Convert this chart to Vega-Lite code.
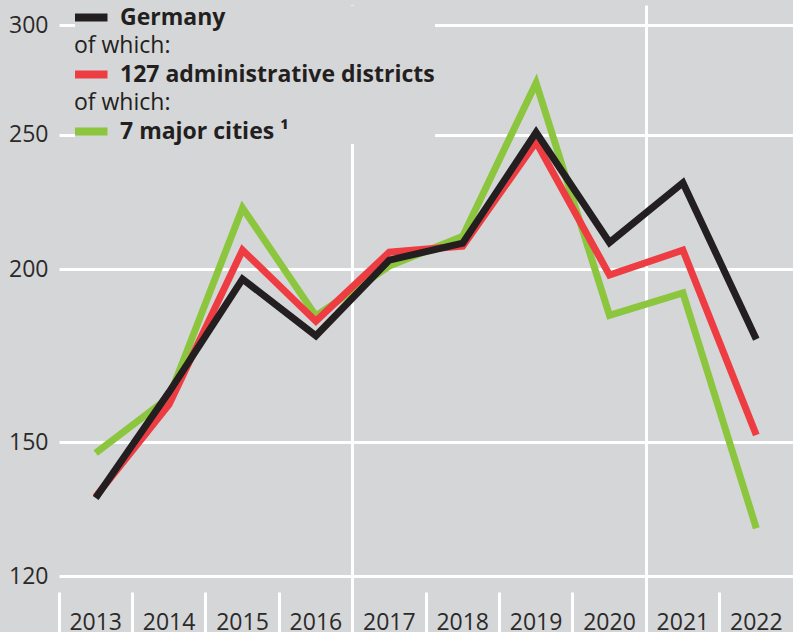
{
  "$schema": "https://vega.github.io/schema/vega-lite/v6.json",
  "width": 734,
  "height": 627,
  "autosize": {"type": "none"},
  "padding": {"left": 59, "top": 5, "right": 0, "bottom": 0},
  "background": "#d5d6d8",
  "config": {
    "view": {"stroke": null, "fill": "#d5d6d8"},
    "font": "Open Sans",
    "axis": {"labelFont": "Open Sans", "labelColor": "#2b2a29", "labelFontSize": 23},
    "legend": {"labelFont": "Open Sans"}
  },
  "data": {
    "values": [
      {"year": 2013, "series": "7 major cities ¹", "value": 147.3},
      {"year": 2014, "series": "7 major cities ¹", "value": 161.6},
      {"year": 2015, "series": "7 major cities ¹", "value": 221.4},
      {"year": 2016, "series": "7 major cities ¹", "value": 185.0},
      {"year": 2017, "series": "7 major cities ¹", "value": 201.0},
      {"year": 2018, "series": "7 major cities ¹", "value": 211.2},
      {"year": 2019, "series": "7 major cities ¹", "value": 272.5},
      {"year": 2020, "series": "7 major cities ¹", "value": 185.2},
      {"year": 2021, "series": "7 major cities ¹", "value": 192.2},
      {"year": 2022, "series": "7 major cities ¹", "value": 130.0},
      {"year": 2013, "series": "127 administrative districts", "value": 137.0},
      {"year": 2014, "series": "127 administrative districts", "value": 159.7},
      {"year": 2015, "series": "127 administrative districts", "value": 206.4},
      {"year": 2016, "series": "127 administrative districts", "value": 183.4},
      {"year": 2017, "series": "127 administrative districts", "value": 205.7},
      {"year": 2018, "series": "127 administrative districts", "value": 207.8},
      {"year": 2019, "series": "127 administrative districts", "value": 247.0},
      {"year": 2020, "series": "127 administrative districts", "value": 198.0},
      {"year": 2021, "series": "127 administrative districts", "value": 206.4},
      {"year": 2022, "series": "127 administrative districts", "value": 151.8},
      {"year": 2013, "series": "Germany", "value": 136.7},
      {"year": 2014, "series": "Germany", "value": 163.0},
      {"year": 2015, "series": "Germany", "value": 196.7},
      {"year": 2016, "series": "Germany", "value": 179.0},
      {"year": 2017, "series": "Germany", "value": 203.0},
      {"year": 2018, "series": "Germany", "value": 208.8},
      {"year": 2019, "series": "Germany", "value": 251.0},
      {"year": 2020, "series": "Germany", "value": 209.0},
      {"year": 2021, "series": "Germany", "value": 230.8},
      {"year": 2022, "series": "Germany", "value": 178.0}
    ]
  },
  "mark": {"type": "line", "strokeWidth": 7, "strokeJoin": "miter", "strokeCap": "butt"},
  "encoding": {
    "x": {
      "field": "year",
      "type": "ordinal",
      "sort": null,
      "scale": {"type": "band", "paddingInner": 0, "paddingOuter": 0},
      "axis": {
        "title": null,
        "orient": "bottom",
        "offset": -40,
        "domain": false,
        "bandPosition": 0,
        "tickSize": 40,
        "tickWidth": 3,
        "tickColor": "white",
        "labelAngle": 0,
        "labelBaseline": "top",
        "labelPadding": -21,
        "labelAlign": "center",
        "grid": true,
        "gridWidth": 3,
        "gridColor": {"condition": {"test": "datum.value == 2017 || datum.value == 2021", "value": "white"}, "value": "transparent"}
      }
    },
    "y": {
      "field": "value",
      "type": "quantitative",
      "scale": {"type": "log", "domain": [109.4, 310.2], "nice": false, "zero": false},
      "axis": {
        "title": null,
        "values": [120, 150, 200, 250, 300],
        "domain": false,
        "ticks": false,
        "labelPadding": 11,
        "grid": true,
        "gridColor": "white",
        "gridWidth": 3
      }
    },
    "color": {
      "field": "series",
      "type": "nominal",
      "scale": {
        "domain": ["Germany", "ow1", "127 administrative districts", "ow2", "7 major cities ¹"],
        "range": ["#231f20", "transparent", "#ee3d42", "transparent", "#8cc63e"]
      },
      "legend": {
        "title": null,
        "orient": "none",
        "legendX": 16,
        "legendY": 1,
        "direction": "vertical",
        "symbolType": "M-2,0H2",
        "symbolSize": 361,
        "symbolStrokeWidth": 8,
        "symbolFillColor": "transparent",
        "labelFontSize": 23,
        "labelColor": "#231f20",
        "labelOffset": 6,
        "clipHeight": 23,
        "rowPadding": 4.5,
        "padding": 0,
        "fillColor": "#d5d6d8",
        "labelLimit": 0,
        "labelExpr": "indexof(datum.label, 'ow') === 0 ? 'of which:' : datum.label",
        "encode": {
          "labels": {
            "update": {
              "fontWeight": {"signal": "indexof(datum.value, 'ow') === 0 ? 'normal' : 'bold'"},
              "x": {"signal": "indexof(datum.value, 'ow') === 0 ? -1 : 45"}
            }
          }
        }
      }
    }
  }
}
